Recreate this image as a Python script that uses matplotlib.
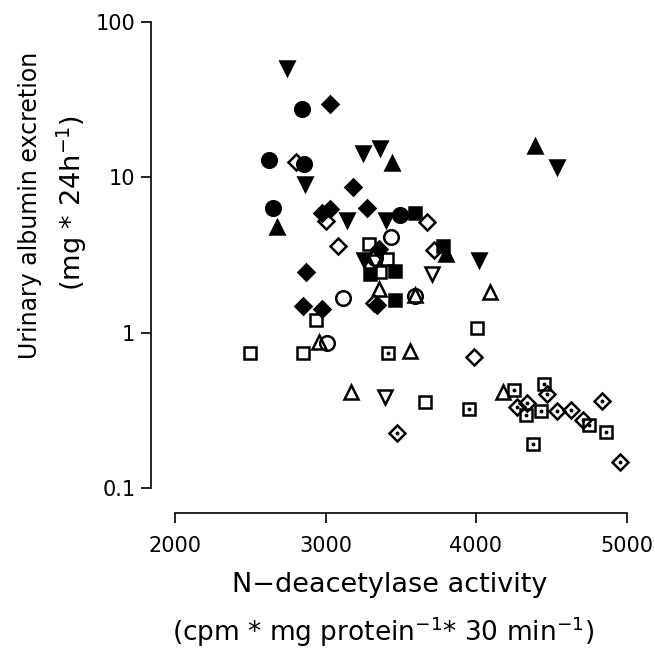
import matplotlib
matplotlib.use("Agg")
import matplotlib.pyplot as plt
from matplotlib.ticker import FixedLocator, FixedFormatter, NullLocator

# N-deacetylase activity (x) vs urinary albumin excretion (y), per group
fc_x = [2842, 2627, 2857, 2653, 3492]
fc_y = [27.4, 12.9, 12.2, 6.31, 5.72]

fd_x = [3030, 3181, 3274, 2977, 3030, 3357, 2870, 2850, 2975, 3340]
fd_y = [29.5, 8.64, 6.36, 5.89, 6.22, 3.48, 2.44, 1.48, 1.43, 1.51]

fs_x = [3595, 3779, 3296, 3464, 3462]
fs_y = [5.87, 3.61, 2.38, 2.50, 1.62]

fu_x = [3440, 2676, 3801, 4392]
fu_y = [12.4, 4.76, 3.21, 15.9]

fv_x = [2746, 2864, 3246, 3365, 3145, 3404, 3256, 4020, 4538]
fv_y = [50.3, 9.12, 14.3, 15.4, 5.29, 5.35, 2.93, 2.93, 11.6]

oc_x = [3433, 3113, 3595, 3013, 3329]
oc_y = [4.16, 1.68, 1.72, 0.861, 3.02]

od_x = [2807, 3003, 3086, 3674, 3718, 3322, 3987]
od_y = [12.6, 5.27, 3.61, 5.18, 3.43, 1.55, 0.70]

os_x = [3289, 3407, 3362, 2937, 2498, 2853, 4009, 3664]
os_y = [3.70, 2.96, 2.47, 1.21, 0.744, 0.744, 1.07, 0.357]

ou_x = [3357, 2959, 3561, 3167, 4093, 4181, 3595]
ou_y = [1.92, 0.877, 0.767, 0.415, 1.83, 0.416, 1.75]

ov_x = [3329, 3706, 3395]
ov_y = [2.86, 2.38, 0.383]

ds_x = [3413, 3955, 4252, 4452, 4332, 4430, 4753, 4864, 4381]
ds_y = [0.744, 0.324, 0.427, 0.467, 0.295, 0.314, 0.254, 0.230, 0.192]

dd_x = [3477, 4474, 4270, 4341, 4536, 4629, 4709, 4835, 4957]
dd_y = [0.225, 0.402, 0.333, 0.350, 0.314, 0.317, 0.276, 0.364, 0.147]

fig = plt.figure(figsize=(6.55, 6.56), dpi=100)
W, H = 655.0, 656.0
ax = fig.add_axes([175 / W, 1 - 488 / H, 451.5 / W, 466 / H])

ax.set_yscale("log")
ax.set_xlim(2000, 5000)
ax.set_ylim(0.1, 100)

kw = dict(linestyle="none", color="black", clip_on=False, markeredgewidth=1.8)

ax.plot(fc_x, fc_y, marker="o", ms=10.5, **kw)
ax.plot(fd_x, fd_y, marker="D", ms=8, **kw)
ax.plot(fs_x, fs_y, marker="s", ms=9, **kw)
ax.plot(fu_x, fu_y, marker="^", ms=10.5, **kw)
ax.plot(fv_x, fv_y, marker="v", ms=10.5, **kw)

ax.plot(oc_x, oc_y, marker="o", ms=10.5, mfc="none", **kw)
ax.plot(od_x, od_y, marker="D", ms=8, mfc="none", **kw)
ax.plot(os_x, os_y, marker="s", ms=9, mfc="none", **kw)
ax.plot(ou_x, ou_y, marker="^", ms=10.5, mfc="none", **kw)
ax.plot(ov_x, ov_y, marker="v", ms=10.5, mfc="none", **kw)

# open square / diamond with a dot in the middle
ax.plot(ds_x, ds_y, marker="s", ms=9, mfc="none", **kw)
ax.plot(dd_x, dd_y, marker="D", ms=8, mfc="none", **kw)
ax.plot(ds_x + dd_x, ds_y + dd_y, linestyle="none", marker="o", ms=1.8,
        color="black", clip_on=False)

# detached spines, outward ticks (offsets in points: px * 0.72)
for s in ["top", "right"]:
    ax.spines[s].set_visible(False)
ax.spines["left"].set_position(("outward", 17.3))
ax.spines["bottom"].set_position(("outward", 18))
ax.spines["left"].set_linewidth(1.2)
ax.spines["bottom"].set_linewidth(1.2)

ax.xaxis.set_major_locator(FixedLocator([2000, 3000, 4000, 5000]))
ax.yaxis.set_major_locator(FixedLocator([0.1, 1, 10, 100]))
ax.yaxis.set_major_formatter(FixedFormatter(["0.1", "1", "10", "100"]))
ax.yaxis.set_minor_locator(NullLocator())
ax.tick_params(axis="both", which="major", direction="out", length=7.2,
               width=1.2, labelsize=15)
ax.tick_params(axis="x", pad=9)
ax.tick_params(axis="y", pad=4)

fig.text(30 / W, 1 - 205 / H, "Urinary albumin excretion", rotation=90,
         ha="center", va="center", fontsize=17)
fig.text(72 / W, 1 - 203 / H, r"(mg * 24h$^{-1}$)", rotation=90,
         ha="center", va="center", fontsize=19.5)
fig.text(390 / W, 1 - 585 / H, "N\u2212deacetylase activity",
         ha="center", va="center", fontsize=19.5)
fig.text(383 / W, 1 - 632 / H, r"(cpm * mg protein$^{-1}$* 30 min$^{-1}$)",
         ha="center", va="center", fontsize=19)

fig.savefig("out.png", dpi=100, facecolor="white")
